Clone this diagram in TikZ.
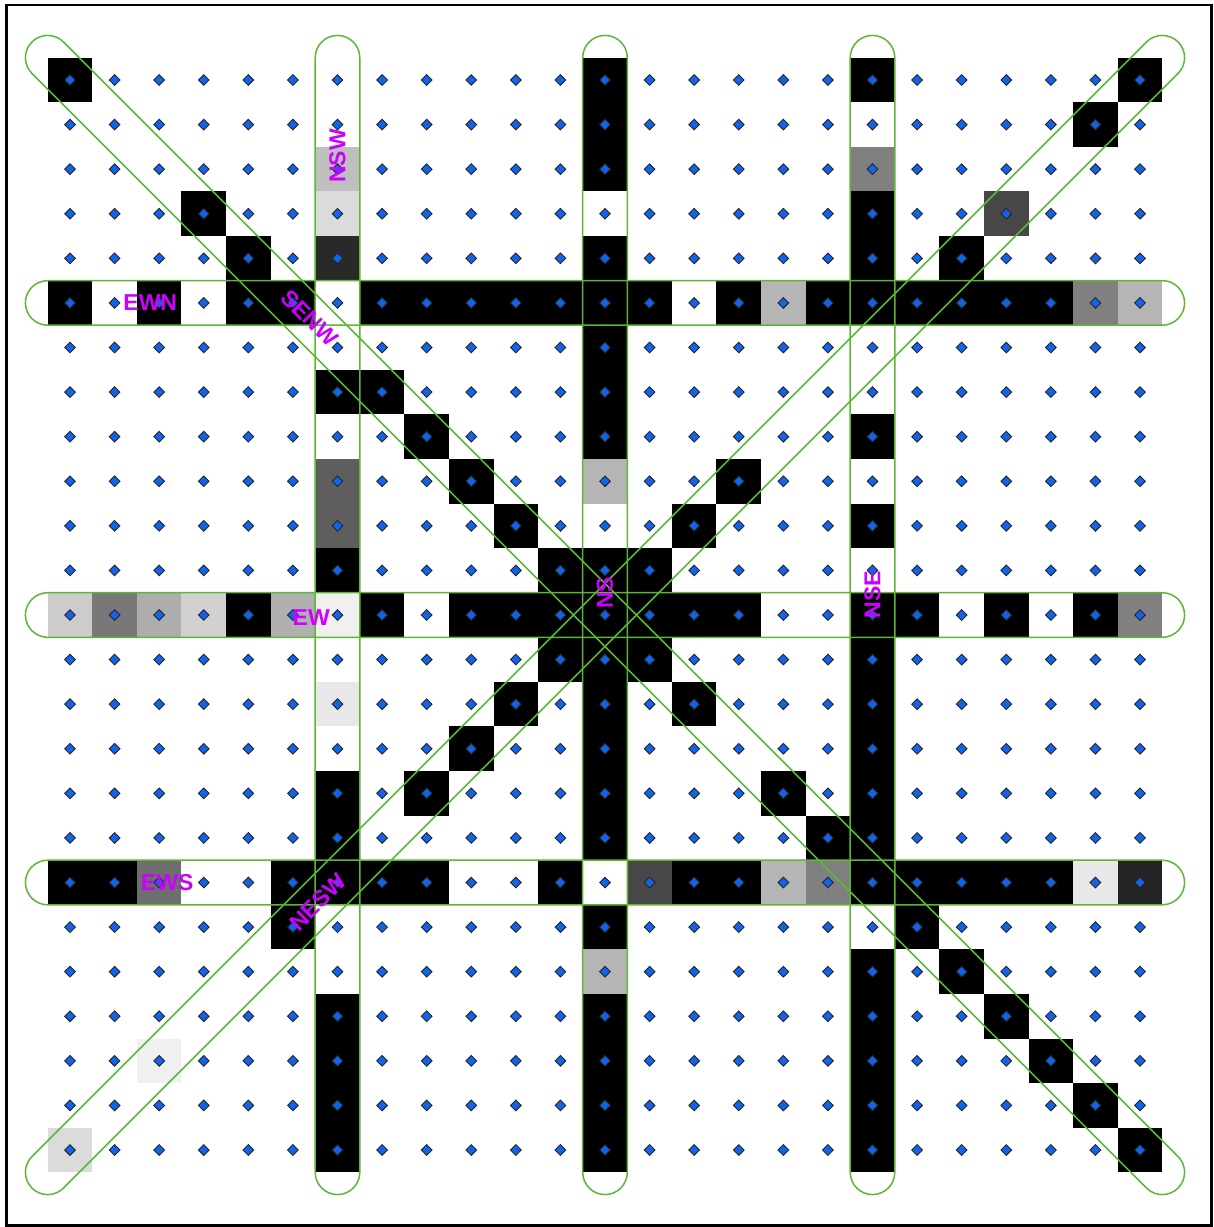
\documentclass[tikz,border=0pt]{standalone}
\usepackage{xcolor}
\usepackage{fontspec}
\setmainfont{Liberation Sans}
\usepackage{tikz}
\usetikzlibrary{shapes.misc,positioning}
\definecolor{LaneGreen}{RGB}{92,184,52}
\definecolor{TagViolet}{RGB}{204,0,255}
\definecolor{PinBlue}{RGB}{16,100,235}

\begin{document}
\begin{tikzpicture}[x=22.29pt,y=-22.29pt]
\tikzstyle{lane}=[rounded rectangle,draw=LaneGreen,line width=0.75pt,inner sep=0pt,minimum height=22.29pt]
\tikzstyle{tag}=[text=TagViolet,font=\bfseries\fontsize{11.5}{11.5}\selectfont,inner sep=0pt]
\useasboundingbox (-1.5701,-1.7944) rectangle (25.638,25.727);
\fill[white] (-1.5701,-1.7944) rectangle (25.638,25.727);
\draw[line width=1.25pt] (-1.4198,-1.6822) rectangle (25.604,25.694);
\foreach \c/\r in {0/0,12/0,18/0,24/0,12/1,23/1,12/2,3/3,18/3,4/4,12/4,18/4,20/4,
  0/5,2/5,4/5,5/5,7/5,8/5,9/5,10/5,11/5,12/5,13/5,15/5,17/5,18/5,19/5,20/5,21/5,22/5,
  12/6,6/7,7/7,12/7,8/8,12/8,18/8,9/9,15/9,10/10,14/10,18/10,6/11,11/11,12/11,13/11,
  4/12,7/12,9/12,10/12,11/12,12/12,13/12,14/12,15/12,18/12,19/12,21/12,23/12,
  11/13,12/13,13/13,18/13,10/14,12/14,14/14,18/14,9/15,12/15,18/15,
  6/16,8/16,12/16,16/16,18/16,6/17,12/17,17/17,18/17,
  0/18,1/18,5/18,6/18,7/18,8/18,11/18,14/18,15/18,18/18,19/18,20/18,21/18,22/18,
  5/19,12/19,19/19,18/20,20/20,6/21,12/21,18/21,21/21,6/22,12/22,18/22,22/22,
  6/23,12/23,18/23,23/23,6/24,12/24,18/24,24/24}
  \fill (\c-0.5,\r-0.5) rectangle ++(1,1);
\foreach \c/\r/\g in {6/2/25,18/2/50,6/3/14,21/3/72,6/4/84,16/5/29,23/5/50,24/5/29,
  6/9/63,12/9/29,6/10/63,0/12/20,1/12/53,2/12/32,3/12/18,5/12/31,6/12/6,24/12/50,
  6/14/9,2/18/57,13/18/72,16/18/29,17/18/50,23/18/9,24/18/86,12/20/29,2/22/6,0/24/14}
  \fill[black!\g] (\c-0.5,\r-0.5) rectangle ++(1,1);
\foreach \c in {0,...,24}
  \foreach \r in {0,...,24}
    \filldraw[fill=PinBlue,draw=black!85,line width=0.45pt] (\c+0.12,\r) -- (\c,\r+0.12) -- (\c-0.12,\r) -- (\c,\r-0.12) -- cycle;
\node[lane,minimum width=579.54pt,rotate=90] (nsw) at (6,12) {};
\node[lane,minimum width=579.54pt,rotate=90] (ns) at (12,12) {};
\node[lane,minimum width=579.54pt,rotate=90] (nse) at (18,12) {};
\node[lane,minimum width=579.54pt] (ewn) at (12,5) {};
\node[lane,minimum width=579.54pt] (ew) at (12,12) {};
\node[lane,minimum width=579.54pt] (ews) at (12,18) {};
\node[lane,minimum width=810.36pt,rotate=-45] (senw) at (12,12) {};
\node[lane,minimum width=810.36pt,rotate=45] (nesw) at (12,12) {};
\node[tag] (t-ewn) at (1.8,5) {EWN};
\node[tag] (t-ew) at (5.41,12.05) {EW};
\node[tag] (t-ews) at (2.18,18) {EWS};
\node[tag,rotate=90] (t-nsw) at (6,1.7) {NSW};
\node[tag,rotate=90] (t-ns) at (12,11.5) {NS};
\node[tag,rotate=90] (t-nse) at (18,11.55) {NSE};
\node[tag,rotate=-45] (t-senw) at (5.38,5.34) {SENW};
\node[tag,rotate=45] (t-nesw) at (5.56,18.44) {NESW};
\end{tikzpicture}
\end{document}
